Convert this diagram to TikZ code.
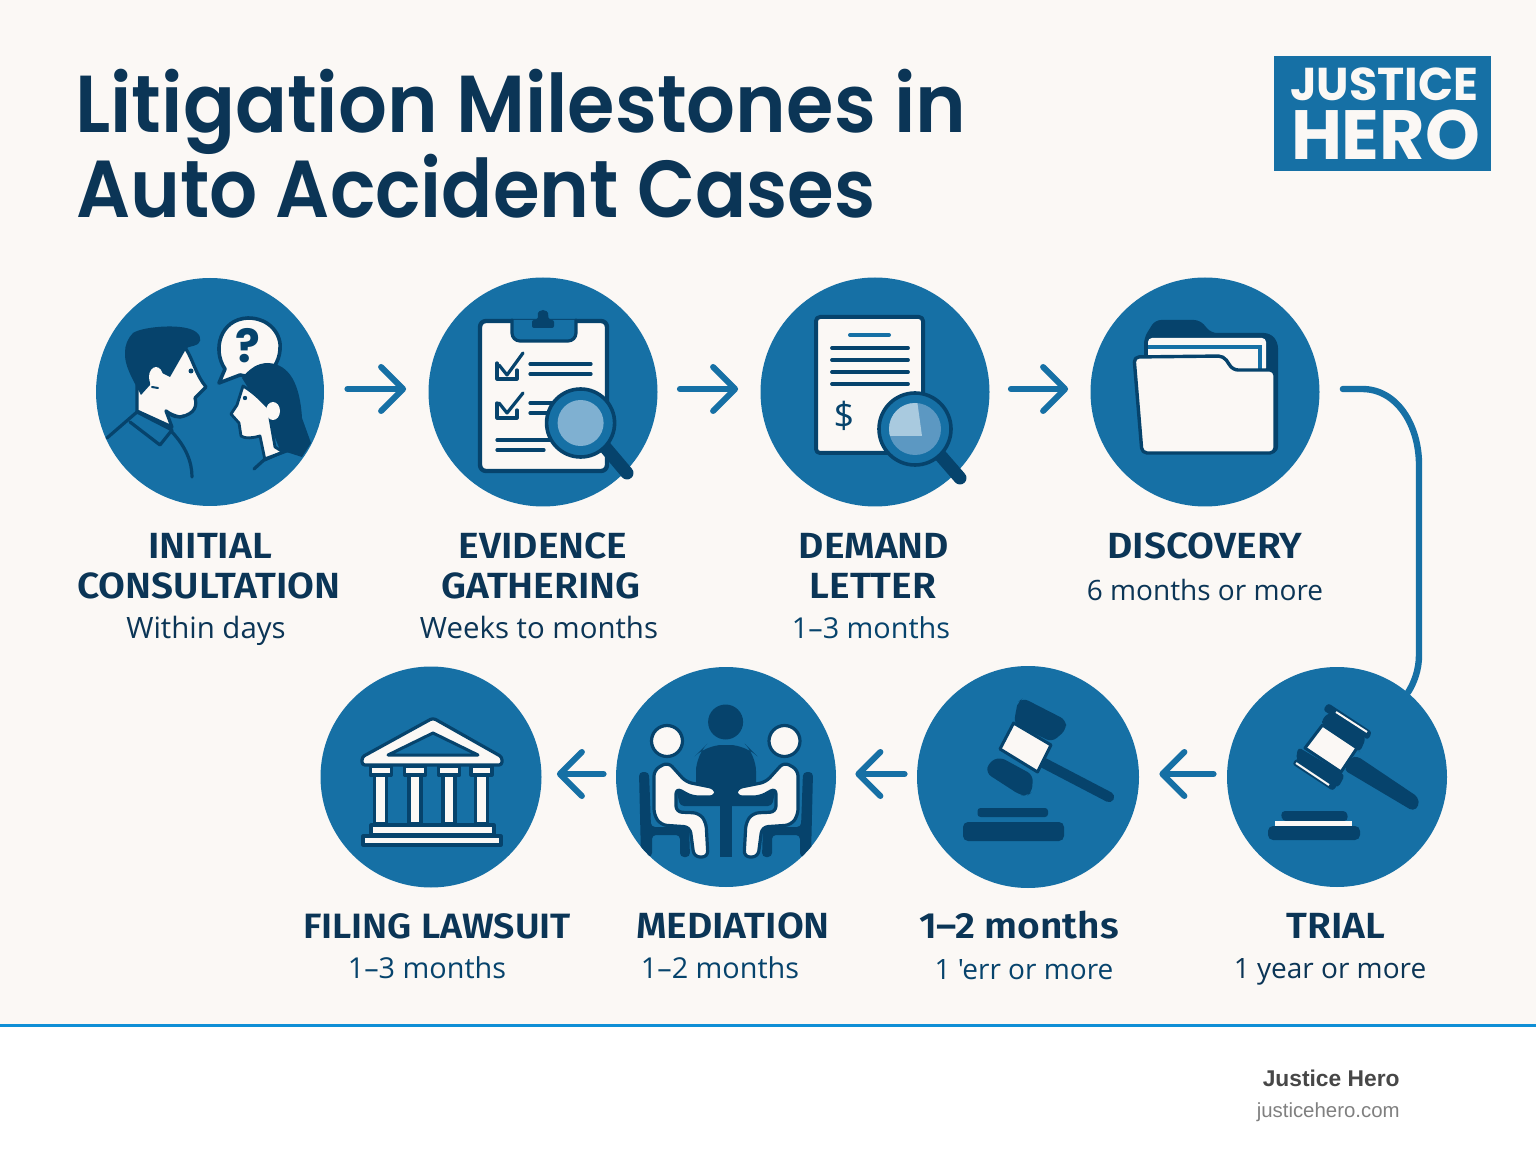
\documentclass[tikz,border=0pt]{standalone}
\usepackage{fontspec}
\usetikzlibrary{arrows.meta,calc}
\setmainfont{Open Sans}
\newfontfamily\subf{Open Sans}
\newfontfamily\headf{Poppins SemiBold}[FakeStretch=0.95]
\newfontfamily\headg{Poppins SemiBold}[FakeStretch=0.935]
\newfontfamily\logof{Poppins}
\newfontfamily\labf{Fira Sans SemiBold}[FakeStretch=1.07]
\newfontfamily\footf{Liberation Sans}
\definecolor{paper}{HTML}{FBF8F5}
\definecolor{disc}{HTML}{1670A5}
\definecolor{deep}{HTML}{06436C}
\definecolor{ink}{HTML}{0B3556}
\definecolor{rule}{HTML}{0F8FD6}
\definecolor{lens}{HTML}{7FB0D1}
\definecolor{lensb}{HTML}{5C98C2}
\definecolor{lensc}{HTML}{A9CADF}
\tikzset{
  discnode/.style={circle,fill=disc,draw=none,inner sep=0pt,minimum size=#1},
  flow/.style={draw=disc,line width=3pt,line cap=round,-{Straight Barb[round,length=11pt,width=22pt]}},
  wire/.style={draw=disc,line width=3.2pt,line cap=round},
  dk/.style={fill=deep,draw=none},
  dl/.style={draw=deep,line width=1.6pt,line cap=round,line join=round},
  wh/.style={fill=paper,draw=deep,line width=1.6pt,line join=round},
  titletxt/.style={anchor=base west,inner sep=0pt,text=ink,font=\headf\fontsize{40.4}{40.4}\selectfont},
  titletwo/.style={titletxt,font=\headg\fontsize{40.4}{40.4}\selectfont},
  headtxt/.style={anchor=base,inner sep=0pt,text=ink,font=\labf\fontsize{18.2}{18.2}\selectfont},
  subtxt/.style={anchor=base,inner sep=0pt,text=ink,font=\subf\fontsize{14}{14}\selectfont},
  subbig/.style={subtxt,font=\subf\fontsize{14.7}{14.7}\selectfont},
  subblue/.style={subtxt,text=deep},
}
\begin{document}
\begin{tikzpicture}[x=0.5pt,y=-0.5pt]
\useasboundingbox (0,0) rectangle (1536,1154);
\fill[paper] (0,0) rectangle (1536,1025);
\fill[white] (0,1025) rectangle (1536,1154);
\fill[rule] (0,1024) rectangle (1536,1027);

% discs
\node[discnode=114pt] (c1) at (210,392) {};
\node[discnode=114.5pt] (c2) at (543,392) {};
\node[discnode=114.5pt] (c3) at (875,392) {};
\node[discnode=114.5pt] (c4) at (1205,392) {};
\node[discnode=110.5pt] (c5) at (431,777) {};
\node[discnode=110pt] (c6) at (726,777) {};
\node[discnode=111pt] (c7) at (1028,777) {};
\node[discnode=110pt] (c8) at (1337,777) {};

% connectors
\draw[flow,shorten <=11.5pt,shorten >=11pt] ([yshift=1.5pt]c1.east) -- ([yshift=1.5pt]c2.west);
\draw[flow,shorten <=11pt,shorten >=11pt] ([yshift=1.5pt]c2.east) -- ([yshift=1.5pt]c3.west);
\draw[flow,shorten <=10.5pt,shorten >=11pt] ([yshift=1.5pt]c3.east) -- ([yshift=1.5pt]c4.west);
\draw[wire] ([xshift=11.5pt,yshift=1.5pt]c4.east) -- (1362,389) .. controls (1397,389) and (1419,425) .. (1419,465) -- (1419,655) .. controls (1419,670) and (1414,683) .. (c8.50);
\draw[flow,shorten <=6.5pt,shorten >=10pt] ([yshift=1.5pt]c8.west) -- ([yshift=1.5pt]c7.east);
\draw[flow,shorten <=6pt,shorten >=9.5pt] ([yshift=1.5pt]c7.west) -- ([yshift=1.5pt]c6.east);
\draw[flow,shorten <=6pt,shorten >=7.5pt] ([yshift=1.5pt]c6.west) -- ([yshift=1.5pt]c5.east);

% ---- people icon
\fill[paper,draw=deep,line width=1.6pt,line join=round] (186,349) .. controls (193,360) and (196,375) .. (206,387) -- (195,398) .. controls (197,405) and (196,414) .. (180,417) .. controls (175,416) and (170,414) .. (166,411) -- (172,427) -- (137,411) -- (137,385) -- (160,350) -- cycle;
\fill[dk] (133,333) .. controls (142,327) and (175,324) .. (190,329) .. controls (200,332) and (203,340) .. (198,344) .. controls (193,347) and (188,346) .. (186,349) -- (170,377) -- (160,372) -- (150,372) -- (150,385) -- (141,395) .. controls (132,378) and (124,365) .. (125,352) .. controls (125,345) and (128,338) .. (133,333) -- cycle;
\fill[paper] (156,377) ellipse (7 and 10);
\draw[dl,line width=1pt] (152,387) -- (158,388);
\fill[deep] (191,371) circle (2.5);
\draw[dl] (107,438) -- (137,412) -- (172,430);
\draw[dl] (130,422) -- (160,445) -- (172,430);
\draw[dl] (172,432) .. controls (186,447) and (192,462) .. (192,477);
\draw[dl] (166,411) .. controls (172,417) and (178,418) .. (184,416);
\fill[paper,draw=deep,line width=1.8pt,line join=round] (219,383) -- (225,369) .. controls (212,350) and (220,319) .. (248,318) .. controls (270,318) and (282,335) .. (280,350) .. controls (279,362) and (272,372) .. (262,379) -- (240,375) -- cycle;
\node[inner sep=0pt,text=deep,font=\logof\bfseries\fontsize{23}{23}\selectfont] (qm) at (247.5,346) {?};
% woman
\fill[dk] (242,378) .. controls (250,368) and (258,363) .. (268,363) .. controls (290,364) and (300,385) .. (302,418) -- (311,443) -- (302,457) -- (280,450) -- (268,420) -- cycle;
\fill[paper,draw=deep,line width=1.4pt,line join=round] (243,386) .. controls (258,395) and (264,404) .. (268,407) -- (275,447) -- (283,452) -- (265,460) -- (260,436) .. controls (253,438) and (245,439) .. (241,436) -- (239,423) -- (231,414) -- (237,405) -- cycle;
\fill[paper] (273,411) ellipse (7 and 9);
\fill[deep] (245,398) circle (2.2);
\draw[dl] (254,469) -- (265,459) -- (300,446);

% ---- clipboard
\draw[wh,line width=2.2pt,rounded corners=3pt] (480,321) rectangle (607,471);
\draw[dl,fill=disc,rounded corners=4pt] (512,320) -- (512,341) -- (576,341) -- (576,320);
\fill[dk,rounded corners=1pt] (532,320) -- (537.5,320) -- (538,315) arc (180:360:5) -- (549,320) -- (554,320) -- (554,328) -- (532,328) -- cycle;
\draw[dl] (497,363) -- (497,379) -- (517,379) -- (517,370);
\draw[dl] (499,365) -- (507,375) -- (523,353);
\draw[dl] (530,364) -- (591,364) (530,374) -- (591,374);
\draw[dl] (497,403) -- (497,418) -- (517,418) -- (517,410);
\draw[dl] (499,403) -- (507,413) -- (523,393);
\draw[dl] (530,403) -- (565,403) (530,413) -- (565,413);
\draw[dl] (497,440) -- (552,440) (497,450) -- (544,450);
\draw[deep,line width=6.5pt,line cap=round] (605,447) -- (627,473);
\fill[disc,draw=deep,line width=1.8pt] (580.6,423) circle (34);
\fill[lens] (580.6,423) circle (23);

% ---- demand letter
\draw[wh,line width=2pt,rounded corners=2pt] (816,317) rectangle (923,453);
\draw[draw=disc,line width=2pt,line cap=round] (850,335) -- (889,335);
\draw[dl,line width=1.9pt] (832,348) -- (908,348) (832,360) -- (908,360) (832,372) -- (908,372) (832,384) -- (908,384);
\node[inner sep=0pt,text=deep,font=\subf\fontsize{18}{18}\selectfont] (dollar) at (844,416) {\$};
\draw[deep,line width=6.5pt,line cap=round] (940,455) -- (960,478);
\fill[disc,draw=deep,line width=1.8pt] (915,429) circle (36);
\begin{scope}
\clip (915,429) circle (26);
\fill[lensb] (880,395) rectangle (950,465);
\fill[lensc] (896,400) -- (917,400) -- (922,436) -- (885,436) -- cycle;
\end{scope}

% ---- folder
\fill[dk,rounded corners=3pt] (1144,357) -- (1144,338) -- (1155,320) -- (1200,320) -- (1211,333) -- (1270,333) -- (1278,342) -- (1278,453) -- (1145,453) -- cycle;
\fill[paper,rounded corners=2pt] (1148,338) rectangle (1266,372);
\draw[draw=disc,line width=1.6pt] (1148,347) -- (1260,347) -- (1260,370);
\draw[wh,line width=1.7pt,rounded corners=2.5pt] (1134,357) -- (1223.5,356) -- (1233,370) -- (1275,370) -- (1275,453) -- (1142,453) -- cycle;

% ---- courthouse
\draw[wh,rounded corners=1.5pt] (433,718) -- (362,757) -- (362,765) -- (502,765) -- (502,757) -- cycle;
\draw[deep,fill=disc,line width=1.5pt,line join=round] (433,733) -- (388,755) -- (478,755) -- cycle;
\foreach \cx in {380.6,415,449,481.5}{
  \draw[wh] (\cx-6,775) rectangle (\cx+6,824);
  \draw[wh] (\cx-10.5,766) rectangle (\cx+10.5,775);
}
\draw[wh] (371,825) rectangle (494,835);
\draw[wh] (363,836) rectangle (501,845);

% ---- mediation
\begin{scope}
\clip (726,777) circle (110);
\fill[dk] (725.6,722) circle (17.5);
\fill[dk,rounded corners=8pt] (696,800) -- (696,755) -- (706,745) -- (746,745) -- (756,755) -- (756,800) -- cycle;
\fill[dk] (720,790) rectangle (732,857);
\fill[dk,rounded corners=2pt] (676,788) -- (692,797) -- (760,797) -- (776,788) -- (772,806) -- (680,806) -- cycle;
% chairs
\fill[dk,rounded corners=2pt] (639,772) -- (649,772) -- (651,827) -- (689,827) -- (690,857) -- (680,857) -- (680,835) -- (652,835) -- (652,857) -- (641,857) -- cycle;
\fill[dk,rounded corners=2pt] (813,772) -- (803,772) -- (801,827) -- (763,827) -- (762,857) -- (772,857) -- (772,835) -- (800,835) -- (800,857) -- (811,857) -- cycle;
% sitters
\draw[wh,rounded corners=3pt] (654,770) -- (668,762) -- (686,782) -- (716,788) -- (716,797) -- (692,797) -- (676,788) -- (676,812) -- (699,813) -- (706,822) -- (708,857) -- (694,857) -- (690,827) -- (661,825) -- (654,815) -- cycle;
\draw[wh,rounded corners=3pt] (798,770) -- (784,762) -- (766,782) -- (736,788) -- (736,797) -- (760,797) -- (776,788) -- (776,812) -- (753,813) -- (746,822) -- (744,857) -- (758,857) -- (762,827) -- (791,825) -- (798,815) -- cycle;
\end{scope}
\draw[wh] (667,741) circle (15.5);
\draw[wh] (784.5,741) circle (15.5);

% ---- gavel 1
\draw[deep,line width=5.2pt,line cap=round] (1040,761) -- (1109,797);
\fill[dk,rounded corners=3pt] (1016,710) -- (1018,702) -- (1023,698) -- (1066,720) -- (1066,730) -- (1052,742) -- (1014,724) -- cycle;
\fill[dk,rounded corners=3pt] (986,773) -- (989,762) -- (1000,757) -- (1033,775) -- (1032,792) -- (1027,796) -- (1020,795) -- cycle;
\draw[wh,line width=1.5pt] (1013.6,723) -- (1051,745) -- (1037.5,772) -- (1000,749) -- cycle;
\fill[dk,rounded corners=1.5pt] (977.5,808) rectangle (1048,817);
\fill[dk,rounded corners=2.5pt] (963,822) rectangle (1064,841);

% ---- gavel 2
\fill[dk,rounded corners=2pt] (1351,758) -- (1357,756) -- (1418,797) -- (1419,806) -- (1413,811) -- (1344,770) -- cycle;
\fill[dk,rounded corners=2pt] (1322,719) -- (1330,712) -- (1366,738) -- (1360,752) -- (1357,750) -- (1322,725) -- cycle;
\fill[dk,rounded corners=1.5pt] (1328,703) -- (1372,732) -- (1368,740) -- (1323,710) -- cycle;
\draw[paper,line width=1pt] (1336,712) -- (1367,732);
\fill[dk,rounded corners=2pt] (1298,747) -- (1345,775) -- (1338,788) -- (1296,760) -- cycle;
\fill[dk,rounded corners=1.5pt] (1297,758) -- (1338,784) -- (1333,791) -- (1292,764) -- cycle;
\draw[paper,line width=1pt] (1296,763) -- (1329,785);
\draw[wh,line width=1.5pt] (1322.5,725) -- (1357,748) -- (1341,772) -- (1305,748) -- cycle;
\fill[dk,rounded corners=2pt] (1282,821) -- (1281,811) -- (1347,811) -- (1348,821) -- cycle;
\fill[paper] (1275,821) rectangle (1352,825.5);
\fill[dk,rounded corners=2.5pt] (1268,826) rectangle (1360,840);

% ---- logo
\fill[disc] (1274,56) rectangle (1491,171);
\node[anchor=base,inner sep=0pt,text=paper,font=\logof\bfseries\fontsize{24}{24}\selectfont] (lj) at (1384,101) {\resizebox{94pt}{!}{JUSTICE}};
\node[anchor=base,inner sep=0pt,text=paper,font=\logof\bfseries\fontsize{36}{36}\selectfont] (lh) at (1385.5,160) {\resizebox{94.5pt}{!}{HERO}};

% ---- title
\node[titletxt] (t1) at (75,133) {Litigation Milestones in};
\node[titletwo] (t2) at (76,218) {Auto Accident Cases};

% ---- labels
\node[headtxt] (a1) at (210,559) {INITIAL};
\node[headtxt] (a2) at (209,598) {CONSULTATION};
\node[subbig] (a3) at (206,638) {Within days};
\node[headtxt] (b1) at (543,559) {EVIDENCE};
\node[headtxt] (b2) at (541,598) {GATHERING};
\node[subbig] (b3) at (539,638) {Weeks to months};
\node[headtxt] (d1) at (874,559) {DEMAND};
\node[headtxt] (d2) at (873,598) {LETTER};
\node[subblue,font=\subf\fontsize{14.4}{14.4}\selectfont] (d3) at (871,638) {1–3 months};
\node[headtxt] (e1) at (1205,559) {DISCOVERY};
\node[subtxt] (e2) at (1205,600) {6 months or more};
\node[headtxt,font=\labf\fontsize{17.6}{18}\selectfont] (f1) at (437,938) {FILING LAWSUIT};
\node[subblue,font=\subf\fontsize{14.4}{14.4}\selectfont] (f2) at (427,978) {1–3 months};
\node[headtxt] (g1) at (733,938) {MEDIATION};
\node[subblue,font=\subf\fontsize{14.4}{14.4}\selectfont] (g2) at (720,978) {1–2 months};
\node[headtxt] (h1) at (1019,938) {1–2 months};
\node[subblue] (h2) at (1024,979) {1 'err or more};
\node[headtxt] (i1) at (1336,938) {TRIAL};
\node[subtxt] (i2) at (1330,978) {1 year or more};

% ---- footer
\node[anchor=base east,inner sep=0pt,text=black!72,font=\footf\bfseries\fontsize{11.4}{11.4}\selectfont] (j1) at (1400,1086) {Justice Hero};
\node[anchor=base east,inner sep=0pt,text=black!50,font=\footf\fontsize{10.2}{10.2}\selectfont] (j2) at (1400,1117) {justicehero.com};
\end{tikzpicture}
\end{document}
